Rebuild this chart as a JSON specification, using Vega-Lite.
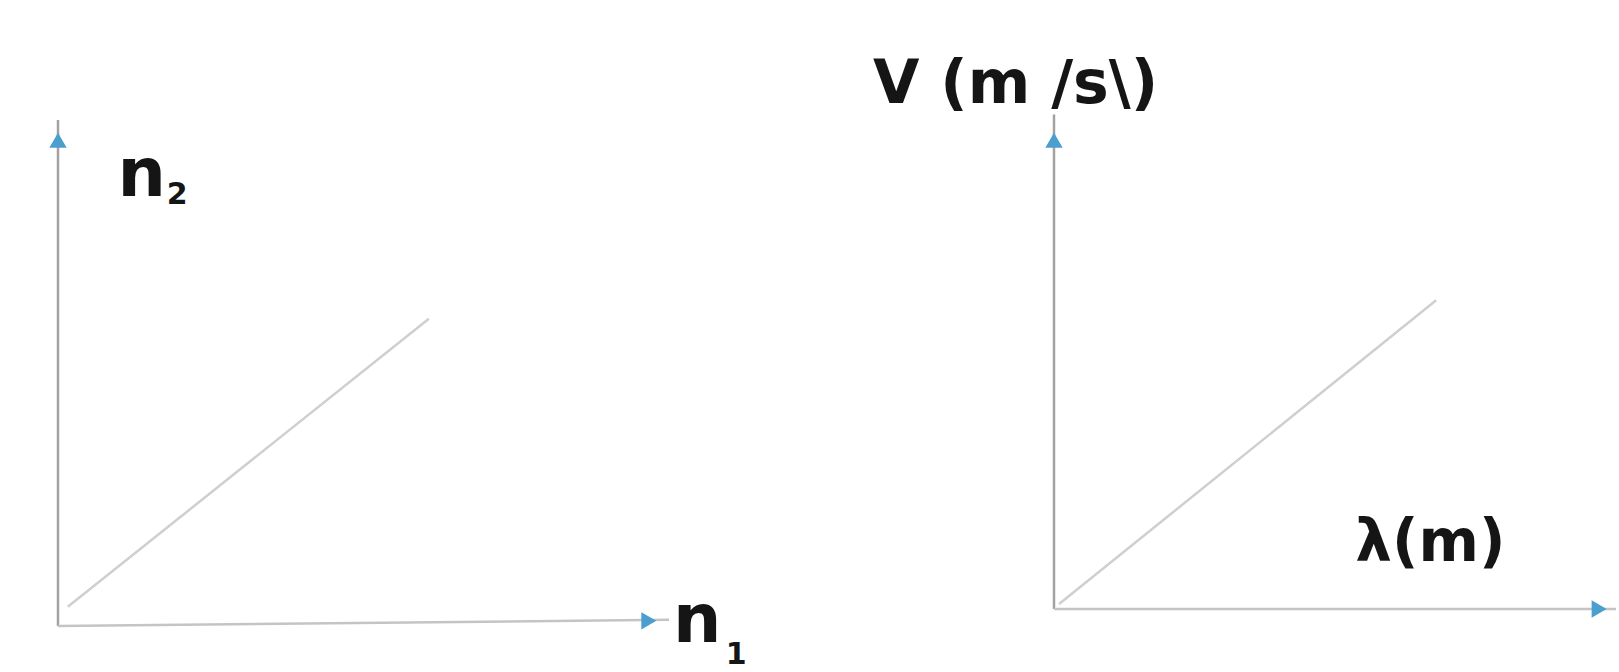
{
  "$schema": "https://vega.github.io/schema/vega-lite/v6.json",
  "background": "white",
  "padding": {"left": 49, "top": 54, "right": 3, "bottom": 0},
  "bounds": "flush",
  "spacing": 385,
  "config": {"view": {"stroke": null}},
  "datasets": {
    "arrows": [
      {"panel": "left", "part": "vertical axis", "x": 0, "y": 0, "x2": 0, "y2": 9.75},
      {"panel": "left", "part": "horizontal axis", "x": 0, "y": 0, "x2": 10, "y2": 0.12},
      {"panel": "left", "part": "line", "x": 0.16, "y": 0.37, "x2": 6.07, "y2": 5.92},
      {"panel": "right", "part": "vertical axis", "x": 0, "y": 0, "x2": 0, "y2": 9.85},
      {"panel": "right", "part": "horizontal axis", "x": 0, "y": 0, "x2": 10, "y2": 0},
      {"panel": "right", "part": "line", "x": 0.09, "y": 0.1, "x2": 6.8, "y2": 6.15}
    ],
    "heads": [
      {"panel": "left", "dir": "up", "x": 0, "y": 9.36},
      {"panel": "left", "dir": "right", "x": 9.67, "y": 0.1},
      {"panel": "right", "dir": "up", "x": 0, "y": 9.34},
      {"panel": "right", "dir": "right", "x": 9.7, "y": 0}
    ],
    "labels": [
      {"panel": "left", "role": "main", "text": "n", "x": 1.37, "y": 8.29},
      {"panel": "left", "role": "sub", "text": "2", "x": 1.95, "y": 8.14},
      {"panel": "left", "role": "main", "text": "n", "x": 10.46, "y": -0.31},
      {"panel": "left", "role": "sub", "text": "1", "x": 11.1, "y": -0.73},
      {"panel": "right", "role": "title", "text": "V (m /s\\)", "x": -3.22, "y": 10.08},
      {"panel": "right", "role": "axis", "text": "λ(m)", "x": 5.36, "y": 0.96}
    ]
  },
  "hconcat": [
    {
      "width": 611,
      "height": 519,
      "layer": [
        {
          "data": {"name": "arrows"},
          "transform": [{"filter": "datum.panel === 'left'"}],
          "mark": {"type": "rule", "strokeWidth": 2.5},
          "encoding": {
            "x": {"field": "x", "type": "quantitative", "scale": {"domain": [0, 10], "nice": false, "zero": false}, "axis": null},
            "y": {"field": "y", "type": "quantitative", "scale": {"domain": [0, 10], "nice": false, "zero": false}, "axis": null},
            "x2": {"field": "x2"},
            "y2": {"field": "y2"},
            "color": {"field": "part", "type": "nominal", "scale": {"domain": ["vertical axis", "horizontal axis", "line"], "range": ["#a2a2a2", "#c4c4c4", "#cfcfcf"]}, "legend": null}
          }
        },
        {
          "data": {"name": "heads"},
          "transform": [{"filter": "datum.panel === 'left'"}],
          "mark": {"type": "point", "filled": true, "size": 300, "opacity": 1, "color": "#4b9fcf"},
          "encoding": {
            "x": {"field": "x", "type": "quantitative"},
            "y": {"field": "y", "type": "quantitative"},
            "shape": {"field": "dir", "type": "nominal", "scale": {"domain": ["up", "right"], "range": ["triangle-up", "triangle-right"]}, "legend": null}
          }
        },
        {
          "data": {"name": "labels"},
          "transform": [{"filter": "datum.panel === 'left' && datum.role === 'main'"}],
          "mark": {"type": "text", "font": "DejaVu Sans", "fontWeight": "bold", "fontSize": 68, "align": "center", "baseline": "alphabetic", "color": "#151515"},
          "encoding": {
            "x": {"field": "x", "type": "quantitative"},
            "y": {"field": "y", "type": "quantitative"},
            "text": {"field": "text"}
          }
        },
        {
          "data": {"name": "labels"},
          "transform": [{"filter": "datum.panel === 'left' && datum.role === 'sub'"}],
          "mark": {"type": "text", "font": "DejaVu Sans", "fontWeight": "bold", "fontSize": 30, "align": "center", "baseline": "alphabetic", "color": "#151515"},
          "encoding": {
            "x": {"field": "x", "type": "quantitative"},
            "y": {"field": "y", "type": "quantitative"},
            "text": {"field": "text"}
          }
        }
      ]
    },
    {
      "width": 562,
      "height": 502,
      "layer": [
        {
          "data": {"name": "arrows"},
          "transform": [{"filter": "datum.panel === 'right'"}],
          "mark": {"type": "rule", "strokeWidth": 2.5},
          "encoding": {
            "x": {"field": "x", "type": "quantitative", "scale": {"domain": [0, 10], "nice": false, "zero": false}, "axis": null},
            "y": {"field": "y", "type": "quantitative", "scale": {"domain": [0, 10], "nice": false, "zero": false}, "axis": null},
            "x2": {"field": "x2"},
            "y2": {"field": "y2"},
            "color": {"field": "part", "type": "nominal", "scale": {"domain": ["vertical axis", "horizontal axis", "line"], "range": ["#a2a2a2", "#d2d2d2", "#cfcfcf"]}, "legend": null}
          }
        },
        {
          "data": {"name": "heads"},
          "transform": [{"filter": "datum.panel === 'right'"}],
          "mark": {"type": "point", "filled": true, "size": 300, "opacity": 1, "color": "#4b9fcf"},
          "encoding": {
            "x": {"field": "x", "type": "quantitative"},
            "y": {"field": "y", "type": "quantitative"},
            "shape": {"field": "dir", "type": "nominal", "scale": {"domain": ["up", "right"], "range": ["triangle-up", "triangle-right"]}, "legend": null}
          }
        },
        {
          "data": {"name": "labels"},
          "transform": [{"filter": "datum.panel === 'right' && datum.role === 'title'"}],
          "mark": {"type": "text", "font": "DejaVu Sans", "fontWeight": "bold", "fontSize": 60, "align": "left", "baseline": "alphabetic", "color": "#151515"},
          "encoding": {
            "x": {"field": "x", "type": "quantitative"},
            "y": {"field": "y", "type": "quantitative"},
            "text": {"field": "text"}
          }
        },
        {
          "data": {"name": "labels"},
          "transform": [{"filter": "datum.panel === 'right' && datum.role === 'axis'"}],
          "mark": {"type": "text", "font": "DejaVu Sans", "fontWeight": "bold", "fontSize": 58, "align": "left", "baseline": "alphabetic", "color": "#151515"},
          "encoding": {
            "x": {"field": "x", "type": "quantitative"},
            "y": {"field": "y", "type": "quantitative"},
            "text": {"field": "text"}
          }
        }
      ]
    }
  ]
}
